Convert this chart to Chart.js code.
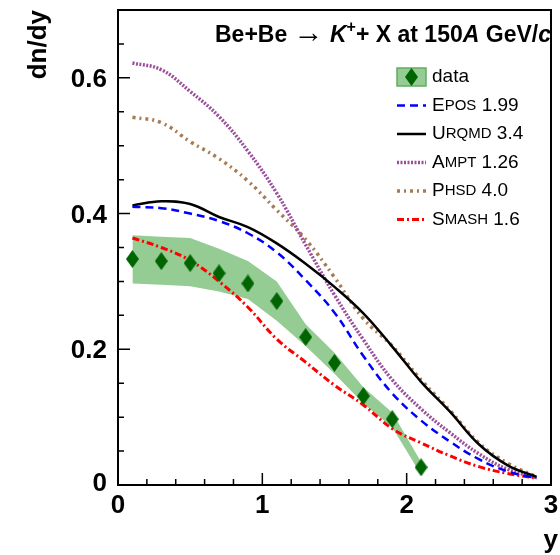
<!DOCTYPE html>
<html>
<head>
<meta charset="utf-8">
<script src="https://cdn.jsdelivr.net/npm/chart.js@4"></script>
<style>
  body { margin: 0; background: #ffffff; }
  #caixa { width: 560px; height: 555px; }
</style>
</head>
<body>
<div id="caixa"><canvas id="grafico" width="560" height="555"></canvas></div>
<script>
// dados medidos (NA61/SHINE Be+Be, K+)
const dadosX = [0.1, 0.3, 0.5, 0.7, 0.9, 1.1, 1.3, 1.5, 1.7, 1.9, 2.1];
const dadosY = [0.333, 0.330, 0.327, 0.312, 0.297, 0.271, 0.218, 0.180, 0.131, 0.097, 0.026];
const faixaAlta = [0.368, 0.366, 0.364, 0.348, 0.330, 0.300, 0.237, 0.195, 0.144, 0.107, 0.034];
const faixaBaixa = [0.297, 0.295, 0.293, 0.285, 0.274, 0.242, 0.205, 0.164, 0.120, 0.085, 0.015];

// modelos
const modeloX = [0.1, 0.3, 0.5, 0.7, 0.9, 1.1, 1.3, 1.5, 1.7, 1.9, 2.1, 2.3, 2.5, 2.7, 2.9];
const epos  = [0.410, 0.408, 0.400, 0.389, 0.371, 0.343, 0.302, 0.254, 0.190, 0.135, 0.095, 0.064, 0.038, 0.020, 0.010];
const urqmd = [0.412, 0.418, 0.414, 0.395, 0.380, 0.356, 0.326, 0.292, 0.253, 0.204, 0.152, 0.108, 0.060, 0.029, 0.012];
const ampt  = [0.622, 0.612, 0.580, 0.543, 0.492, 0.430, 0.354, 0.280, 0.214, 0.155, 0.112, 0.077, 0.046, 0.023, 0.011];
const phsd  = [0.542, 0.534, 0.506, 0.481, 0.448, 0.405, 0.362, 0.306, 0.245, 0.205, 0.155, 0.110, 0.062, 0.032, 0.012];
const smash = [0.364, 0.350, 0.331, 0.300, 0.262, 0.215, 0.181, 0.147, 0.118, 0.083, 0.062, 0.043, 0.027, 0.017, 0.010];

const nomesModelos = ['Epos', 'UrQMD', 'Ampt', 'Phsd', 'Smash'];
const versoes = ['1.99', '3.4', '1.26', '4.0', '1.6'];

const ticksX = [0, 1, 2, 3];
const rotulosX = ['0', '1', '2', '3'];
const ticksY = [0, 0.2, 0.4, 0.6];
const rotulosY = ['0', '0.2', '0.4', '0.6'];

const FONTE = '"Liberation Sans", Arial, sans-serif';
const VERDE = '#006400';
const VERDE_FAIXA = 'rgb(148,204,148)';

function pares(xs, ys) {
    return xs.map((x, i) => ({ x: x, y: ys[i] }));
}

function criarLosango(w, h, cor) {
    const c = document.createElement('canvas');
    c.width = w; c.height = h;
    const g = c.getContext('2d');
    g.fillStyle = cor;
    g.beginPath();
    g.moveTo(w / 2, 0); g.lineTo(w, h / 2); g.lineTo(w / 2, h); g.lineTo(0, h / 2);
    g.closePath();
    g.fill();
    return c;
}

const losango = criarLosango(13, 18, VERDE);

function linhaModelo(nome, ys, cor, tracejado, largura) {
    return {
        label: nome,
        data: pares(modeloX, ys),
        borderColor: cor,
        borderDash: tracejado,
        borderWidth: largura,
        pointRadius: 0,
        fill: false,
        tension: 0.4,
        order: 2
    };
}

const modelos = [
    linhaModelo('Epos', epos, '#0000ff', [8, 5], 2.5),
    linhaModelo('UrQMD', urqmd, '#000000', [], 2.5),
    linhaModelo('Ampt', ampt, '#9b4f9b', [2, 1.5], 3.5),
    linhaModelo('Phsd', phsd, '#a67c52', [3, 4, 2, 4], 3.5),
    linhaModelo('Smash', smash, '#ff0000', [7, 3, 2, 3], 3)
];

// desenha moldura, ticks, textos e legenda
const moldura = {
    id: 'moldura',
    afterDatasetsDraw(chart) {
        const ctx = chart.ctx;
        const a = chart.chartArea;
        const sx = chart.scales.x, sy = chart.scales.y;
        ctx.save();
        ctx.strokeStyle = '#000';
        ctx.lineWidth = 2;
        ctx.strokeRect(a.left, a.top, a.right - a.left, a.bottom - a.top);

        // ticks
        ctx.lineWidth = 1.5;
        ctx.beginPath();
        for (let v = 0; v <= 3.001; v += 0.2) {
            const px = sx.getPixelForValue(v);
            const maior = Math.abs(v - Math.round(v)) < 0.01;
            ctx.moveTo(px, a.bottom);
            ctx.lineTo(px, a.bottom - (maior ? 12 : 6));
        }
        for (let v = 0; v <= 0.701; v += 0.05) {
            const py = sy.getPixelForValue(v);
            const maior = Math.abs(v * 5 - Math.round(v * 5)) < 0.01;
            ctx.moveTo(a.left, py);
            ctx.lineTo(a.left + (maior ? 12 : 6), py);
        }
        ctx.stroke();

        // rotulos
        ctx.fillStyle = '#000';
        ctx.font = 'bold 26px ' + FONTE;
        ctx.textAlign = 'center';
        ctx.textBaseline = 'alphabetic';
        ticksX.forEach((v, i) => {
            ctx.fillText(rotulosX[i], sx.getPixelForValue(v), 513);
        });
        ctx.textAlign = 'right';
        ctx.textBaseline = 'middle';
        ticksY.forEach((v, i) => {
            const py = sy.getPixelForValue(v);
            ctx.fillText(rotulosY[i], 107, i === 0 ? py - 1 : py + 2);
        });

        // titulos dos eixos
        ctx.textBaseline = 'alphabetic';
        ctx.textAlign = 'right';
        ctx.fillText('y', 558, 548);
        ctx.save();
        ctx.translate(46, a.top);
        ctx.rotate(-Math.PI / 2);
        ctx.fillText('dn/dy', 0, 0);
        ctx.restore();

        desenharTitulo(ctx);
        desenharLegenda(ctx, chart);
        ctx.restore();
    }
};

function desenharTitulo(ctx) {
    const partes = [
        ['Be+Be ', 'bold 23px', 0],
        ['\u2192', '30px', 0],
        [' ', 'bold 23px', 0],
        ['K', 'italic bold 23px', 0],
        ['+', 'bold 16px', -10],
        ['+ X at 150', 'bold 23px', 0],
        ['A', 'italic bold 23px', 0],
        [' GeV/', 'bold 23px', 0],
        ['c', 'italic bold 23px', 0]
    ];
    let x = 215;
    ctx.textAlign = 'left';
    ctx.textBaseline = 'alphabetic';
    partes.forEach(p => {
        ctx.font = p[1] + ' ' + FONTE;
        ctx.fillText(p[0], x, 42 + p[2]);
        x += ctx.measureText(p[0]).width;
    });
}

// texto em versalete como no ROOT (#font[..]{E}POS)
function versalete(ctx, nome, x, y) {
    ctx.font = '19px ' + FONTE;
    ctx.fillText(nome[0], x, y);
    x += ctx.measureText(nome[0]).width;
    ctx.font = '15px ' + FONTE;
    const resto = nome.slice(1).toUpperCase();
    ctx.fillText(resto, x, y);
    return x + ctx.measureText(resto).width;
}

function desenharLegenda(ctx, chart) {
    const x0 = 397, x1 = 426, xt = 432;
    const y0 = 77, passo = 28.5;
    ctx.textAlign = 'left';
    ctx.textBaseline = 'middle';

    // caixa dos dados
    ctx.fillStyle = VERDE_FAIXA;
    ctx.fillRect(x0, y0 - 9, x1 - x0, 18);
    ctx.strokeStyle = '#5fae5f';
    ctx.lineWidth = 1.5;
    ctx.strokeRect(x0, y0 - 9, x1 - x0, 18);
    ctx.drawImage(losango, (x0 + x1) / 2 - 6.5, y0 - 9);
    ctx.fillStyle = '#000';
    ctx.font = '19px ' + FONTE;
    ctx.fillText('data', xt, y0);

    modelos.forEach((ds, i) => {
        const y = y0 + passo * (i + 1);
        ctx.strokeStyle = ds.borderColor;
        ctx.lineWidth = ds.borderWidth;
        ctx.setLineDash(ds.borderDash);
        ctx.beginPath();
        ctx.moveTo(x0, y);
        ctx.lineTo(x1, y);
        ctx.stroke();
        ctx.setLineDash([]);
        ctx.fillStyle = '#000';
        let x = versalete(ctx, nomesModelos[i], xt, y);
        ctx.font = '19px ' + FONTE;
        ctx.fillText(' ' + versoes[i], x, y);
    });
}

new Chart(document.getElementById('grafico'), {
    type: 'line',
    data: {
        datasets: [
            {
                label: 'data',
                data: pares(dadosX, dadosY),
                showLine: false,
                pointStyle: losango,
                pointRadius: 8,
                order: 0
            },
            {
                label: 'faixa baixa',
                data: pares(dadosX, faixaBaixa),
                borderWidth: 0,
                pointRadius: 0,
                fill: false,
                order: 10
            },
            {
                label: 'faixa alta',
                data: pares(dadosX, faixaAlta),
                borderWidth: 0,
                pointRadius: 0,
                backgroundColor: VERDE_FAIXA,
                fill: '-1',
                order: 9
            },
            ...modelos
        ]
    },
    options: {
        responsive: false,
        animation: false,
        layout: { padding: { top: 10, right: 1, left: 0, bottom: 0 } },
        plugins: {
            legend: { display: false },
            tooltip: { enabled: false }
        },
        scales: {
            x: {
                type: 'linear',
                min: 0,
                max: 3,
                grid: { display: false },
                border: { display: false },
                ticks: { display: false },
                afterFit: s => { s.height = 70; }
            },
            y: {
                min: 0,
                max: 0.7,
                grid: { display: false },
                border: { display: false },
                ticks: { display: false },
                afterFit: s => { s.width = 118; }
            }
        }
    },
    plugins: [moldura]
});
</script>
</body>
</html>
